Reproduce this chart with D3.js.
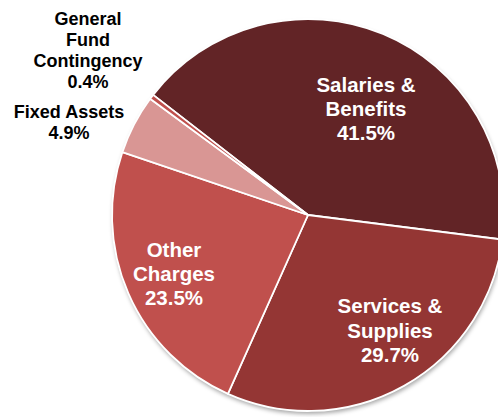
<!DOCTYPE html>
<html>
<head>
<meta charset="utf-8">
<script src="https://cdn.jsdelivr.net/npm/d3@7"></script>
<style>
  html, body { margin: 0; padding: 0; background: #fff; }
  svg { display: block; }
</style>
</head>
<body>
<svg id="chart" width="498" height="417"></svg>
<script>
// Budget shares by expenditure category (percent)
const categories = ["Salaries & Benefits", "Services & Supplies", "Other Charges", "Fixed Assets", "General Fund Contingency"];
const shares = [41.5, 29.7, 23.5, 4.9, 0.4];
const colors = ["#622426", "#943634", "#C0504D", "#D99694", "#C0504D"];

// Label lines per category, with anchor positions and text colour
const labelLines = [
  ["Salaries &", "Benefits", "41.5%"],
  ["Services &", "Supplies", "29.7%"],
  ["Other", "Charges", "23.5%"],
  ["Fixed Assets", "4.9%"],
  ["General", "Fund", "Contingency", "0.4%"]
];

const svg = d3.select("#chart");
const cx = 308, cy = 215, r = 196;
const startDeg = -52.2;

const defs = svg.append("defs");
const f = defs.append("filter").attr("id", "shadow")
  .attr("x", "-10%").attr("y", "-10%").attr("width", "120%").attr("height", "120%");
f.append("feDropShadow").attr("dx", 1).attr("dy", 3).attr("stdDeviation", 2)
  .attr("flood-color", "#000").attr("flood-opacity", 0.35);

const pie = d3.pie().sort(null).value(d => d)
  .startAngle(startDeg * Math.PI / 180)
  .endAngle(startDeg * Math.PI / 180 + 2 * Math.PI);
const arcs = pie(shares);
const arc = d3.arc().innerRadius(0).outerRadius(r);

const g = svg.append("g").attr("transform", `translate(${cx},${cy})`);

// Shadowed disc behind the slices
g.append("circle").attr("r", r).attr("fill", "#fff").attr("filter", "url(#shadow)");

g.selectAll("path.slice").data(arcs).enter().append("path")
  .attr("class", "slice")
  .attr("d", arc)
  .attr("fill", (d, i) => colors[i])
  .attr("stroke", "#fff")
  .attr("stroke-width", 1.8)
  .attr("stroke-linejoin", "round");

// Label placement: inside labels in white, outside labels in black
const labelSpec = [
  { x: 366, y: 92, size: 20.5, lh: 24, fill: "#fff" },
  { x: 390, y: 313, size: 20.5, lh: 24.5, fill: "#fff" },
  { x: 174, y: 257, size: 20.5, lh: 24, fill: "#fff" },
  { x: 69, y: 118, size: 18, lh: 21, fill: "#000" },
  { x: 88, y: 25, size: 18, lh: 21, fill: "#000" }
];

labelLines.forEach((lines, i) => {
  const s = labelSpec[i];
  const t = svg.append("text")
    .attr("text-anchor", "middle")
    .attr("font-family", "Liberation Sans, Arial, sans-serif")
    .attr("font-weight", "bold")
    .attr("font-size", s.size)
    .attr("fill", s.fill);
  lines.forEach((ln, j) => {
    t.append("tspan").attr("x", s.x).attr("y", s.y + j * s.lh).text(ln);
  });
});
</script>
</body>
</html>
